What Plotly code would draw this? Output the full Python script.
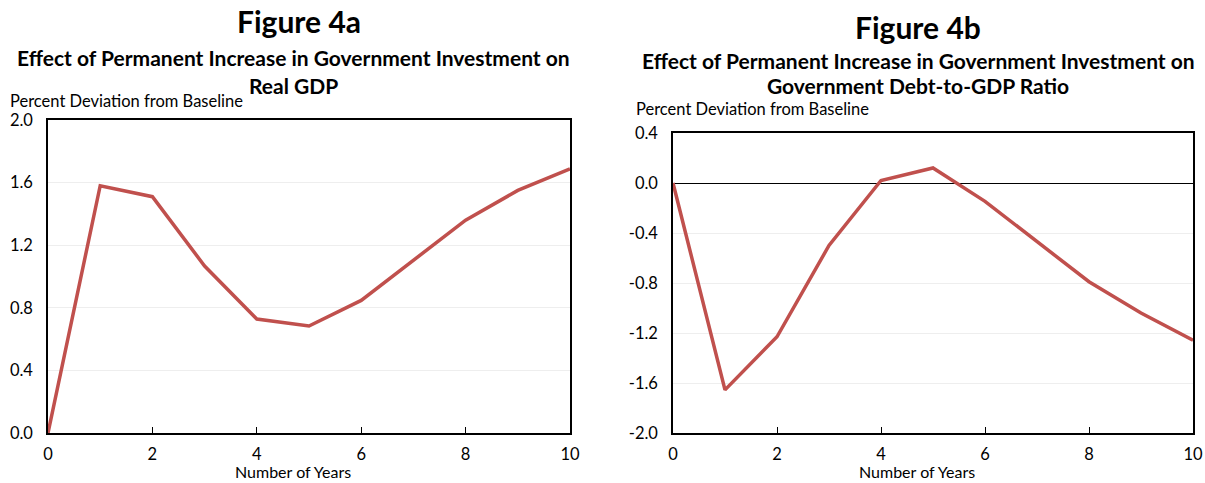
import plotly.graph_objects as go

years = [0, 1, 2, 3, 4, 5, 6, 7, 8, 9, 10]
gdp_dev = [0.0, 1.58, 1.51, 1.067, 0.728, 0.684, 0.847, 1.105, 1.36, 1.55, 1.687]
debt_dev = [0.0, -1.655, -1.23, -0.50, 0.02, 0.12, -0.147, -0.47, -0.79, -1.04, -1.257]

left_yticks = [0.0, 0.4, 0.8, 1.2, 1.6, 2.0]
right_yticks = [-2.0, -1.6, -1.2, -0.8, -0.4, 0.0, 0.4]
xticks = [0, 2, 4, 6, 8, 10]

W, H = 1205, 483
FONT = "Lato"
RED = "#C0504D"

def px(x):
    return x / W

def py(y):
    return 1 - y / H

def fmt(v):
    return f"{v:.1f}"

fig = go.Figure()
fig.add_trace(go.Scatter(x=years, y=gdp_dev, mode="lines", line=dict(color=RED, width=3.5),
                         xaxis="x", yaxis="y", showlegend=False, cliponaxis=False,
                         hoverinfo="skip"))
fig.add_trace(go.Scatter(x=years, y=debt_dev, mode="lines", line=dict(color=RED, width=3.5),
                         xaxis="x2", yaxis="y2", showlegend=False, cliponaxis=False,
                         hoverinfo="skip"))

axis_common = dict(showline=True, linecolor="black", linewidth=1.5, mirror=True,
                   automargin=False,
                   tickfont=dict(family=FONT, size=16.5, color="black"))

fig.update_layout(
    width=W, height=H,
    margin=dict(l=0, r=0, t=0, b=0),
    paper_bgcolor="white", plot_bgcolor="white",
    xaxis=dict(domain=[px(48), px(570)], range=[0, 10], tickvals=xticks,
               ticks="inside", ticklen=6, tickcolor="black", showgrid=False,
               ticklabelstandoff=5, zeroline=False,
               anchor="y", **axis_common),
    yaxis=dict(domain=[py(433), py(120)], range=[0, 2.0], tickvals=left_yticks,
               ticktext=[fmt(v) for v in left_yticks],
               showgrid=True, gridcolor="#EEEEEE", gridwidth=1,
               ticks="", ticklabelstandoff=10, zeroline=False,
               anchor="x", **axis_common),
    xaxis2=dict(domain=[px(673), px(1193)], range=[0, 10], tickvals=xticks,
                ticks="inside", ticklen=6, tickcolor="black", showgrid=False,
                ticklabelstandoff=5, zeroline=False,
                anchor="y2", **axis_common),
    yaxis2=dict(domain=[py(433), py(133)], range=[-2.0, 0.4], tickvals=right_yticks,
                ticktext=[fmt(v) for v in right_yticks],
                showgrid=True, gridcolor="#EEEEEE", gridwidth=1,
                ticks="", ticklabelstandoff=10,
                zeroline=True, zerolinecolor="black", zerolinewidth=1.3,
                anchor="x2", **axis_common),
)

def ann(text, x, y, size, bold=False, xanchor="center", yanchor="middle"):
    fig.add_annotation(text=f"<b>{text}</b>" if bold else text,
                       x=px(x), y=py(y), xref="paper", yref="paper",
                       xanchor=xanchor, yanchor=yanchor, showarrow=False,
                       borderpad=0,
                       font=dict(family=FONT, size=size, color="black"))

ann("Figure 4a", 299, 21, 30, bold=True)
ann("Effect of Permanent Increase in Government Investment on", 293, 57, 21, bold=True)
ann("Real GDP", 293, 86, 21, bold=True)
ann("Percent Deviation from Baseline", 9, 101, 16.5, xanchor="left")
ann("Number of Years", 293, 482, 16, yanchor="bottom")

ann("Figure 4b", 918, 27, 30, bold=True)
ann("Effect of Permanent Increase in Government Investment on", 918, 60, 21, bold=True)
ann("Government Debt-to-GDP Ratio", 918, 86, 21, bold=True)
ann("Percent Deviation from Baseline", 635, 109, 16.5, xanchor="left")
ann("Number of Years", 917, 482, 16, yanchor="bottom")

fig.write_html("out.html", config={"displayModeBar": False},
               post_script="document.body.style.margin='0';document.body.style.overflow='hidden';")
